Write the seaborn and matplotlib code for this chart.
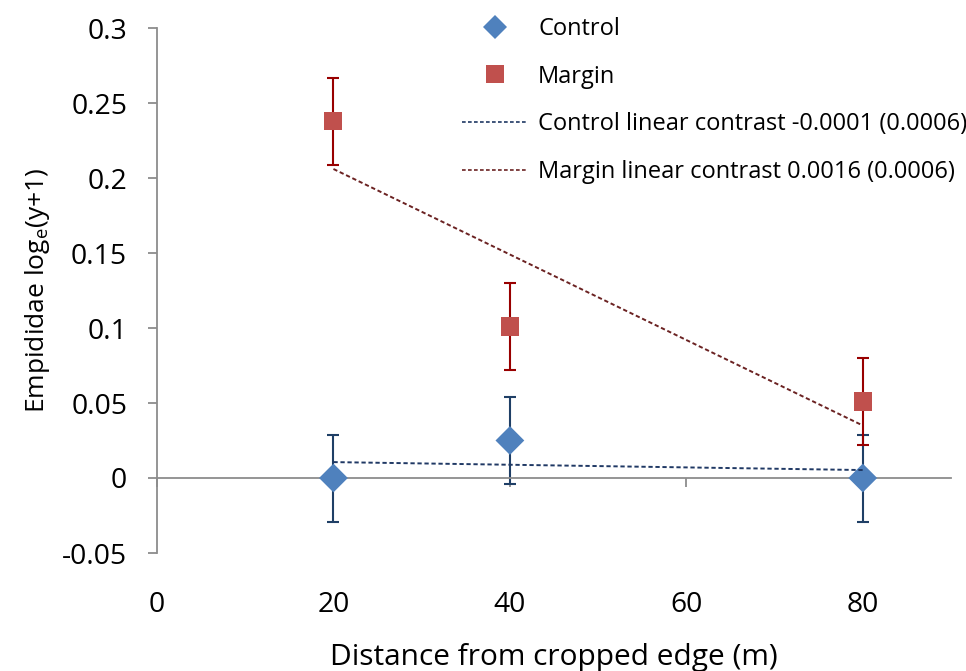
import numpy as np
import pandas as pd
import seaborn as sns
import matplotlib
matplotlib.use("Agg")
import matplotlib.pyplot as plt
from matplotlib.lines import Line2D

# ---- data ----
distance = [20, 40, 80]
control_mean = [0.0, 0.025, 0.0]
control_err = [0.029, 0.029, 0.029]
margin_mean = [0.238, 0.101, 0.051]
margin_err = [0.029, 0.029, 0.029]
trend_x = [20, 80]
control_trend = [0.0106, 0.0053]
margin_trend = [0.206, 0.035]
x_ticks = [0, 20, 40, 60, 80]
y_ticks = [-0.05, 0, 0.05, 0.1, 0.15, 0.2, 0.25, 0.3]
y_tick_labels = ["-0.05", "0", "0.05", "0.1", "0.15", "0.2", "0.25", "0.3"]
legend_labels = ["Control", "Margin",
                 "Control linear contrast -0.0001 (0.0006)",
                 "Margin linear contrast 0.0016 (0.0006)"]

sns.set_theme(style="white")
plt.rcParams['font.family'] = ['Open Sans', 'DejaVu Sans']
plt.rcParams['mathtext.fontset'] = 'custom'
plt.rcParams['mathtext.rm'] = 'Open Sans'
plt.rcParams['text.color'] = 'black'

fig = plt.figure(figsize=(9.66, 6.71), dpi=100)
ax = fig.add_axes([157/966, 1-553/671, (951-157)/966, (553-28)/671])

c_blue = "#4F81BD"
c_blue_err = "#1F3F66"
c_red = "#C0504D"
c_red_err = "#980000"
c_trend_blue = "#1F3864"
c_trend_red = "#6B2222"
grey = "#8C8C8C"

ax.errorbar(distance, control_mean, yerr=control_err, fmt="none",
            ecolor=c_blue_err, elinewidth=1.5, capsize=4.3, capthick=1.5, zorder=2)
ax.errorbar(distance, margin_mean, yerr=margin_err, fmt="none",
            ecolor=c_red_err, elinewidth=1.5, capsize=4.3, capthick=1.5, zorder=2)

df_c = pd.DataFrame({"x": distance, "y": control_mean})
df_m = pd.DataFrame({"x": distance, "y": margin_mean})
sns.scatterplot(data=df_c, x="x", y="y", ax=ax, marker="D", s=215,
                color=c_blue, edgecolor="none", zorder=3)
sns.scatterplot(data=df_m, x="x", y="y", ax=ax, marker="s", s=170,
                color=c_red, edgecolor="none", zorder=3)

df_tc = pd.DataFrame({"x": trend_x, "y": control_trend})
df_tm = pd.DataFrame({"x": trend_x, "y": margin_trend})
sns.lineplot(data=df_tc, x="x", y="y", ax=ax, color=c_trend_blue, lw=1.4, zorder=4)
sns.lineplot(data=df_tm, x="x", y="y", ax=ax, color=c_trend_red, lw=1.4, zorder=4)
for ln in ax.lines[-2:]:
    ln.set_linestyle((0, (2.2, 1.4)))

ax.set_xlim(0, 90)
ax.set_ylim(-0.05, 0.3)
ax.set_xticks(x_ticks)
ax.set_yticks(y_ticks)
ax.set_yticklabels(y_tick_labels)

for s in ["top", "right"]:
    ax.spines[s].set_visible(False)
ax.spines["bottom"].set_position(("data", 0))
for s in ["bottom", "left"]:
    ax.spines[s].set_color(grey)
    ax.spines[s].set_linewidth(1.3)

ax.tick_params(axis="y", direction="out", length=6.5, width=1.3, color=grey,
               labelsize=20.3, pad=15, left=True, labelcolor="black")
ax.tick_params(axis="x", direction="out", length=6.5, width=1.3, color=grey,
               labelsize=20.3, pad=75, bottom=True, labelcolor="black")

ax.set_xlabel("Distance from cropped edge (m)", fontsize=21.5, labelpad=17, color="black")
ax.set_ylabel(r"Empididae log$_\mathregular{e}$(y+1)", fontsize=19, labelpad=7, color="black")

handles = [
    Line2D([], [], marker="D", linestyle="none", color=c_blue, markersize=12.5, markeredgewidth=0),
    Line2D([], [], marker="s", linestyle="none", color=c_red, markersize=13, markeredgewidth=0),
    Line2D([], [], color=c_trend_blue, lw=1.2, linestyle=(0, (2.2, 1.4))),
    Line2D([], [], color=c_trend_red, lw=1.2, linestyle=(0, (2.2, 1.4))),
]
leg = fig.legend(handles, legend_labels, loc="upper left",
                 bbox_to_anchor=(462/966, 1 - 17/671), frameon=False,
                 fontsize=17, labelspacing=1.0, handlelength=2.8,
                 handletextpad=0.42, borderpad=0, borderaxespad=0)

fig.savefig("out.png", dpi=100)
